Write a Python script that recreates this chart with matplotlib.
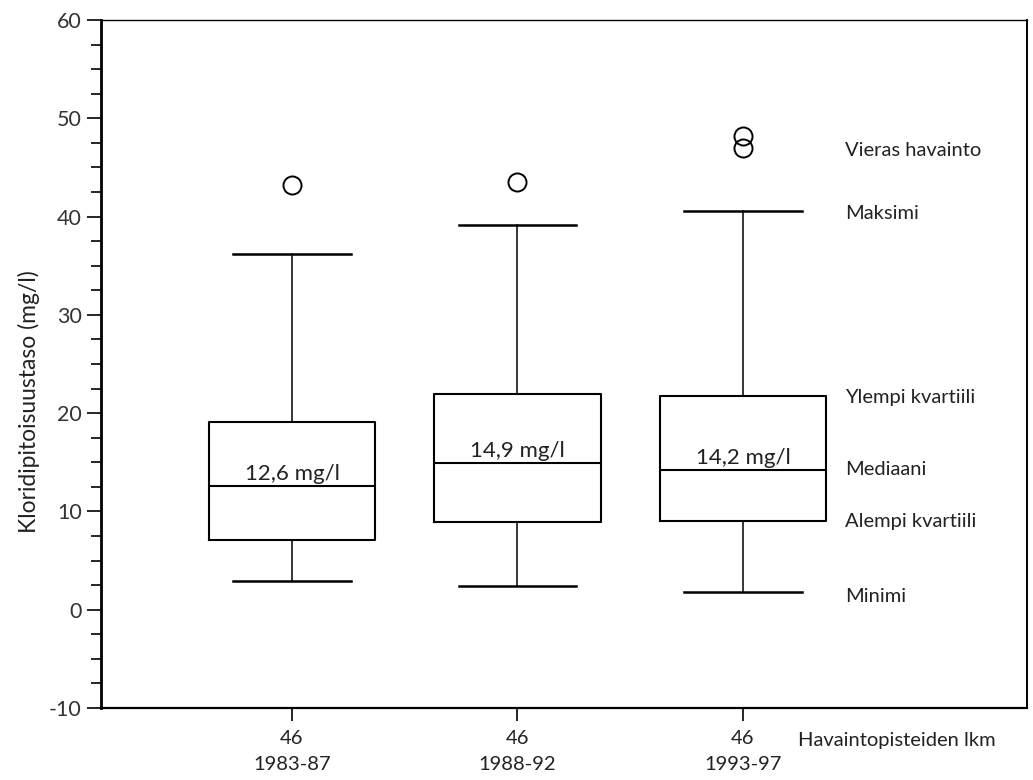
import matplotlib
matplotlib.use("Agg")
from matplotlib import pyplot as plt
from matplotlib.ticker import MultipleLocator

plt.rcParams['font.family'] = ['Lato', 'DejaVu Sans']
plt.rcParams['axes.unicode_minus'] = False

# data
periods = ['1983-87', '1988-92', '1993-97']
counts = [46, 46, 46]
minimum = [2.9, 2.4, 1.8]
q1 = [7.1, 8.9, 9.0]
median = [12.6, 14.9, 14.2]
q3 = [19.1, 22.0, 21.7]
maximum = [36.2, 39.1, 40.6]
outliers = [[43.2], [43.5], [47.0, 48.2]]
median_labels = ['12,6 mg/l', '14,9 mg/l', '14,2 mg/l']

key_names = ['Vieras havainto', 'Maksimi', 'Ylempi kvartiili', 'Mediaani',
             'Alempi kvartiili', 'Minimi']
key_y = [46.7, 40.3, 21.6, 14.3, 9.0, 1.3]

def main():
    fig = plt.figure(figsize=(10.33, 7.8), dpi=100)
    ax = fig.add_axes([0.0978, 0.0923, 0.8964, 0.882])

    stats = []
    for i in range(len(periods)):
        stats.append({'whislo': minimum[i], 'q1': q1[i], 'med': median[i],
                      'q3': q3[i], 'whishi': maximum[i], 'fliers': outliers[i]})
    pos = [1, 2, 3]
    ax.bxp(stats, positions=pos, widths=0.74, showfliers=True,
           boxprops=dict(color='black', linewidth=1.5),
           medianprops=dict(color='black', linewidth=1.5),
           whiskerprops=dict(color='black', linewidth=1.1),
           capprops=dict(color='black', linewidth=1.8),
           flierprops=dict(marker='o', markerfacecolor='none',
                           markeredgecolor='black', markersize=13,
                           markeredgewidth=1.4),
           capwidths=0.52)

    txt = '#222222'
    for i, lab in enumerate(median_labels):
        ax.text(pos[i], median[i] + 0.2, lab, ha='center', va='bottom',
                fontsize=16, color=txt)

    for name, y in zip(key_names, key_y):
        ax.text(3.452, y, name, ha='left', va='center', fontsize=14.5, color=txt)

    ax.set_xlim(0.153, 4.26)
    ax.set_ylim(-10, 60)
    ax.yaxis.set_major_locator(MultipleLocator(10))
    ax.yaxis.set_minor_locator(MultipleLocator(2.5))
    ax.tick_params(axis='y', which='major', length=10, width=1.2,
                   labelsize=15.5, pad=4, labelcolor='#333333')
    ax.tick_params(axis='y', which='minor', length=7, width=1.2)
    ax.set_xticks(pos)
    ax.set_xticklabels([f'{n}\n{p}' for n, p in zip(counts, periods)])
    ax.tick_params(axis='x', length=9, width=1.2, labelsize=14.5, pad=7,
                   labelcolor=txt)
    plt.setp(ax.get_xticklabels(), linespacing=1.6)
    ax.text(3.244, -0.047, 'Havaintopisteiden lkm', ha='left', va='center',
            fontsize=14.5, color=txt, transform=ax.get_xaxis_transform())

    ax.set_ylabel('Kloridipitoisuustaso (mg/l)', fontsize=16.5, color=txt)
    ax.yaxis.set_label_coords(-0.066, 0.446)

    ax.spines['left'].set_linewidth(2.0)
    ax.spines['bottom'].set_linewidth(1.6)
    ax.spines['top'].set_linewidth(1.0)
    ax.spines['right'].set_linewidth(1.4)

    fig.savefig('out.png', dpi=100)

if __name__ == '__main__':
    main()
